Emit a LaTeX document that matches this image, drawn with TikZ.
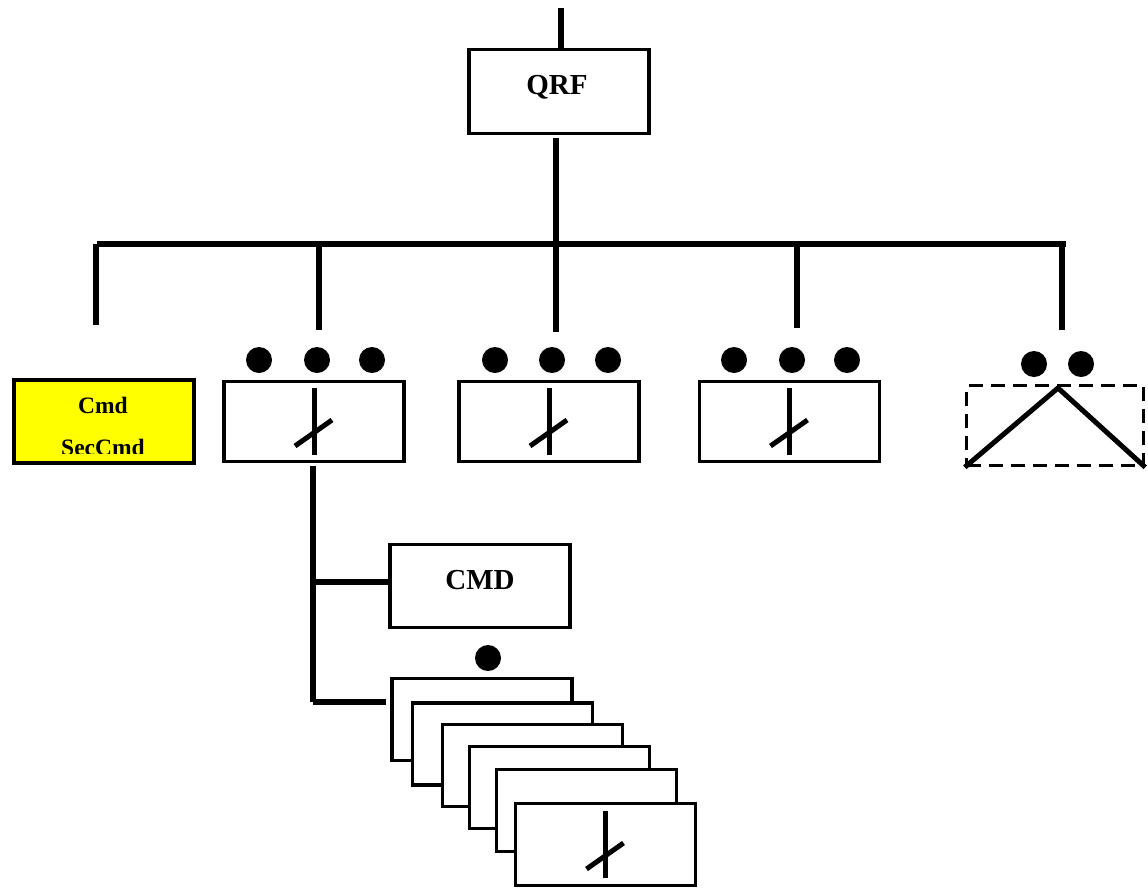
\documentclass[tikz,border=0pt]{standalone}
\usepackage{fontspec}
\setmainfont{Liberation Serif}
\definecolor{pureyellow}{RGB}{255,255,0}
\begin{document}
\begin{tikzpicture}[x=1pt,y=-1pt,
  box/.style={draw, line width=3.5pt, fill=white, minimum width=180pt, minimum height=82pt, inner sep=0pt},
  ybox/.style={box, fill=pureyellow, line width=4pt},
  dbox/.style={draw, line width=3.5pt, dash pattern=on 14pt off 8pt, minimum width=177pt, minimum height=80pt, inner sep=0pt},
  conn/.style={line width=5.5pt},
  symline/.style={line width=5pt},
  dot/.style={circle, fill=black, minimum size=26pt, inner sep=0pt},
  bigtxt/.style={font=\fontsize{29}{30}\selectfont\bfseries, inner sep=0pt, anchor=base},
  smalltxt/.style={font=\fontsize{23.5}{25}\selectfont\bfseries, inner sep=0pt, anchor=base},
  swsym/.pic={\draw[symline] (0,-33.5) -- (0,33.5); \draw[symline] (-19,24.5) -- (18,-1.5);}
]
\useasboundingbox (0,0) rectangle (1148,889);

% QRF
\node[box, minimum height=84pt] (qrf) at (559,91.5) {};
\node[bigtxt] (qrft) at (557,94) {QRF};
\coordinate (top) at (561,8);
\draw[conn] (top) -- (top |- qrf.north);

% bus
\coordinate (busL) at (97,244);
\coordinate (busR) at (1066,244);
\coordinate (busC) at (556,244);
\draw[conn] (busL) -- (busR);
\draw[conn] ([yshift=-3pt]qrf.south -| busC) -- (busC);

% drops
\coordinate (d0) at (96,325);
\coordinate (d1) at (319,330);
\coordinate (d2) at (556,332);
\coordinate (d3) at (797,328);
\coordinate (d4) at (1062,330);
\foreach \d in {d0,d1,d2,d3,d4} \draw[conn] (\d |- busL) -- (\d);

% yellow box
\node[ybox, minimum height=83pt] (yb) at (103.5,421) {};
\begin{scope}
\clip (12,378) rectangle (195,453);
\node[smalltxt] (cmdt) at (103,413) {Cmd};
\node[smalltxt] (secc) at (103,455) {SecCmd};
\end{scope}

% three boxes
\node[box, minimum height=80pt] (b1) at (314,421.5) {};
\node[box, minimum height=80pt] (b2) at (549,421.5) {};
\node[box, minimum height=80pt] (b3) at (789.5,421.5) {};
\pic at (b1) {swsym};
\pic at (b2) {swsym};
\pic at (b3) {swsym};

% dots
\foreach \x/\n in {259/a1,317/a2,372/a3,495/b1,552/b2,608/b3,734/c1,792/c2,847/c3}
  \node[dot] (dot\n) at (\x,360) {};
\node[dot] (dotd1) at (1034,364) {};
\node[dot] (dotd2) at (1081,364) {};

% dashed box
\node[dbox] (dz) at (1055,425.5) {};
\coordinate (peak) at (1058,388);
\draw[symline, line join=miter] (dz.south west) -- (peak) -- (dz.south east);

% CMD
\node[box, minimum height=83pt] (cmd) at (480,586) {};
\node[bigtxt] (cmdtxt) at (480,589) {CMD};

% stack
\node[box] (s1) at (482,719.5) {};
\node[box] (s2) at (502.5,744) {};
\node[box] (s3) at (532.5,765.5) {};
\node[box] (s4) at (559.5,787.5) {};
\node[box] (s5) at (586.5,810.5) {};
\node[box] (s6) at (605.5,844.5) {};
\pic at (s6) {swsym};
\node[dot] (dots) at (488,658) {};

% tree from b1
\coordinate (j1) at (313,582);
\coordinate (j2) at (313,702);
\draw[conn] ([yshift=-3pt]b1.south -| j1) -- (j2);
\draw[conn] (j1) -- (cmd.west |- j1);
\draw[conn] (j2) -- ([xshift=-4pt]s1.west |- j2);
\end{tikzpicture}
\end{document}
